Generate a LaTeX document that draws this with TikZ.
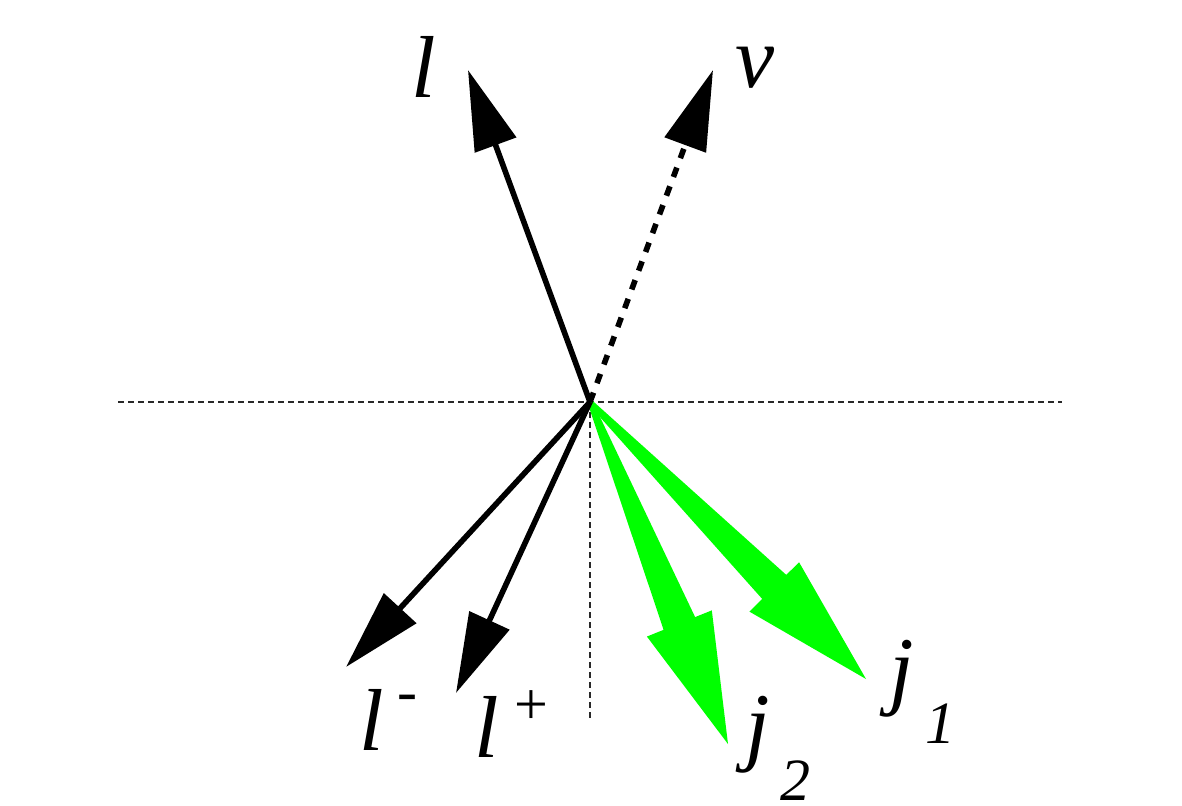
\documentclass[tikz,border=0pt]{standalone}
\usepackage{fontspec}
\setmainfont{Liberation Serif}
\usetikzlibrary{arrows.meta,calc}
\definecolor{jgreen}{RGB}{0,255,0}
\definecolor{axisgray}{RGB}{40,40,40}
\newcommand{\scr}[1]{{\fontsize{30}{30}\selectfont #1}}
\newcommand{\fatarrow}[2]{%
  \path ($(#2)!65pt!(#1)$) coordinate (hb);
  \fill[jgreen] ($(#1)!1.3pt!90:(#2)$) -- ($(hb)!8.5pt!-90:(#1)$) -- ($(hb)!17.5pt!-90:(#1)$)
    -- (#2) -- ($(hb)!17.5pt!90:(#1)$) -- ($(hb)!8.5pt!90:(#1)$) -- ($(#1)!1.3pt!-90:(#2)$) -- cycle;
}
\begin{document}
\begin{tikzpicture}[x=0.5pt,y=-0.5pt,
  axis/.style={axisgray, line width=1pt, dash pattern=on 3pt off 2pt},
  vec/.style={line width=2.8pt, -{Triangle[length=40pt,width=21.5pt]}},
  dashvec/.style={vec, dash pattern=on 5pt off 5pt},
  lab/.style={inner sep=0pt, anchor=base west, font=\fontsize{44}{44}\selectfont\itshape},
]
\useasboundingbox (0,0) rectangle (1182,805);
\coordinate (O) at (590,402);
\coordinate (xl) at (118,402);
\coordinate (xr) at (1062,402);
\coordinate (yb) at (590,720);
\coordinate (tl) at (468,70);
\coordinate (tv) at (713,70);
\coordinate (tlm) at (346,667);
\coordinate (tlp) at (456,693);
\coordinate (tj1) at (866,679);
\coordinate (tj2) at (728,744);
% axes
\draw[axis] (xl) -- (xr);
\draw[axis] (O) -- (yb);
% jets
\fatarrow{O}{tj1}
\fatarrow{O}{tj2}
% leptons and neutrino
\draw[vec] (O) -- (tl);
\draw[dashvec] (O) -- (tv);
\draw[vec] (O) -- (tlm);
\draw[vec] (O) -- (tlp);
% labels
\node[lab] (Ll) at (411,97) {l};
\node[lab] (Lv) at (735,87) {v};
\node[lab] (Llm) at (359,750) {l\hspace{7pt}\raisebox{19.5pt}{\scr{\upshape -}}};
\node[lab] (Llp) at (474,757) {l\hspace{8pt}\raisebox{16.5pt}{\scr{\upshape +}}};
\node[lab] (Lj2) at (745,754) {j\hspace{5.5pt}\raisebox{-23pt}[0pt][0pt]{\scr{2}}};
\node[lab] (Lj1) at (889,698) {j\hspace{6pt}\raisebox{-22.5pt}{\scr{1}}};
\end{tikzpicture}
\end{document}
